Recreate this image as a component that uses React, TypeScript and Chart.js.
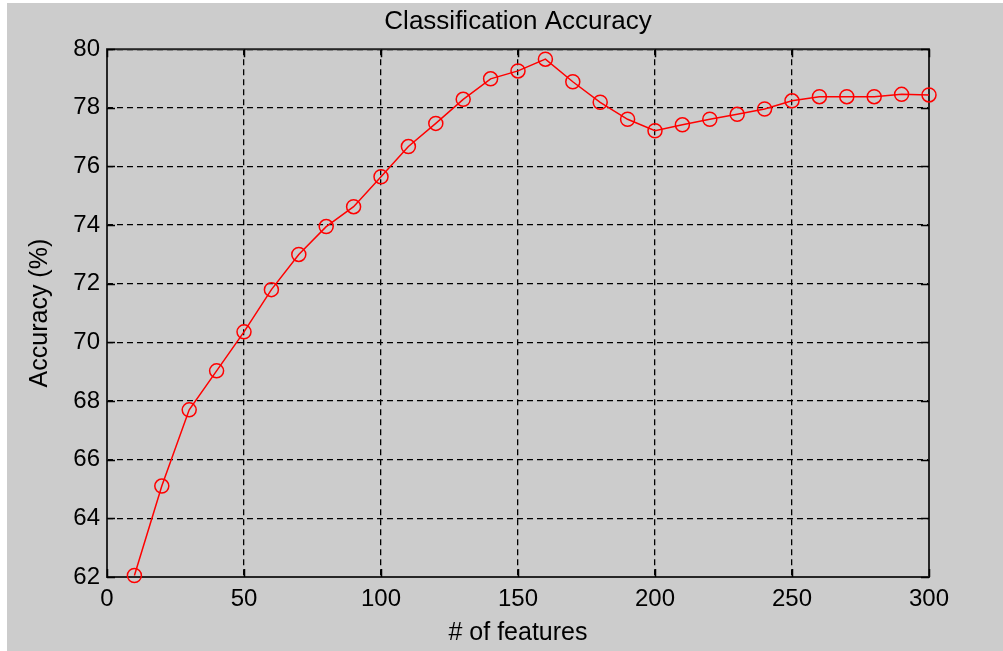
import React, { useEffect, useRef } from "react";
import { Chart, registerables } from "chart.js";

Chart.register(...registerables);

const features: number[] = [10, 20, 30, 40, 50, 60, 70, 80, 90, 100, 110, 120, 130, 140, 150, 160, 170, 180, 190, 200, 210, 220, 230, 240, 250, 260, 270, 280, 290, 300];
const accuracy: number[] = [62.05, 65.1, 67.7, 69.03, 70.36, 71.8, 73.0, 73.95, 74.63, 75.65, 76.68, 77.47, 78.29, 78.99, 79.26, 79.66, 78.89, 78.19, 77.61, 77.22, 77.42, 77.61, 77.78, 77.96, 78.24, 78.38, 78.38, 78.38, 78.46, 78.44];
const xTicks: number[] = [0, 50, 100, 150, 200, 250, 300];
const yTicks: number[] = [62, 64, 66, 68, 70, 72, 74, 76, 78, 80];

const titleText = "Classification Accuracy";
const xLabel = "# of features";
const yLabel = "Accuracy (%)";

const FONT = "'Liberation Sans', Arial, sans-serif";

const boxPlugin = {
  id: "matlabBox",
  beforeDatasetsDraw(chart: any) {
    const { ctx, chartArea, scales } = chart;
    const { left, right, top, bottom } = chartArea;
    ctx.save();
    ctx.strokeStyle = "#262626";
    ctx.lineWidth = 2;
    ctx.setLineDash([]);
    ctx.strokeRect(left, top, right - left, bottom - top);
    ctx.lineWidth = 1.5;
    ctx.strokeStyle = "#000";
    const tl = 8;
    ctx.beginPath();
    for (const v of xTicks) {
      const x = Math.round(scales.x.getPixelForValue(v)) + 0.5;
      ctx.moveTo(x, bottom);
      ctx.lineTo(x, bottom - tl);
      ctx.moveTo(x, top);
      ctx.lineTo(x, top + tl);
    }
    for (const v of yTicks) {
      const y = Math.round(scales.y.getPixelForValue(v)) + 0.5;
      ctx.moveTo(left, y);
      ctx.lineTo(left + tl, y);
      ctx.moveTo(right, y);
      ctx.lineTo(right - tl, y);
    }
    ctx.stroke();
    ctx.restore();
  },
};

export default function App() {
  const ref = useRef<HTMLCanvasElement | null>(null);

  useEffect(() => {
    if (!ref.current) return;
    const chart = new Chart(ref.current, {
      type: "line",
      data: {
        datasets: [
          {
            data: features.map((f, i) => ({ x: f, y: accuracy[i] })),
            borderColor: "#ff0000",
            borderWidth: 1.5,
            pointStyle: "circle",
            pointRadius: 7,
            pointBorderWidth: 1.5,
            pointBorderColor: "#ff0000",
            pointBackgroundColor: "rgba(0,0,0,0)",
            fill: false,
            tension: 0,
            clip: false,
          } as any,
        ],
      },
      options: {
        animation: false,
        responsive: false,
        devicePixelRatio: 1,
        layout: { padding: { left: 0, right: 74, top: 0, bottom: 0 } },
        plugins: {
          legend: { display: false },
          tooltip: { enabled: false },
          title: {
            display: true,
            text: titleText,
            fullSize: false,
            color: "#000",
            font: { family: FONT, size: 26, weight: "normal" },
            padding: { top: 3, bottom: 12 },
          } as any,
        },
        scales: {
          x: {
            type: "linear",
            min: 0,
            max: 300,
            afterBuildTicks: (s: any) => {
              s.ticks = xTicks.map((v) => ({ value: v }));
            },
            afterFit: (s: any) => {
              s.height = 74;
            },
            ticks: {
              color: "#000",
              font: { family: FONT, size: 24 },
              padding: 8,
              maxRotation: 0,
            },
            grid: { color: "#000", lineWidth: 1.3, drawTicks: false },
            border: { display: false, dash: [6, 4] },
            title: {
              display: true,
              text: xLabel,
              color: "#000",
              font: { family: FONT, size: 25 },
              padding: { top: 0, bottom: 3 },
            },
          },
          y: {
            type: "linear",
            min: 62,
            max: 80,
            afterBuildTicks: (s: any) => {
              s.ticks = yTicks.map((v) => ({ value: v }));
            },
            afterFit: (s: any) => {
              s.width = 100;
            },
            ticks: {
              color: "#000",
              font: { family: FONT, size: 24 },
              padding: 7,
            },
            grid: { color: "#000", lineWidth: 1.3, drawTicks: false },
            border: { display: false, dash: [6, 4] },
            title: {
              display: true,
              text: yLabel,
              color: "#000",
              font: { family: FONT, size: 25 },
              padding: { top: 18, bottom: 0 },
            },
          },
        },
      },
      plugins: [boxPlugin],
    } as any);
    return () => chart.destroy();
  }, []);

  return (
    <div style={{ position: "fixed", left: 0, top: 0, width: 1003, height: 651, background: "#ffffff" }}>
      <canvas
        ref={ref}
        width={996}
        height={648}
        style={{ position: "absolute", left: 7, top: 3, width: 996, height: 648, background: "#cccccc" }}
      />
    </div>
  );
}
